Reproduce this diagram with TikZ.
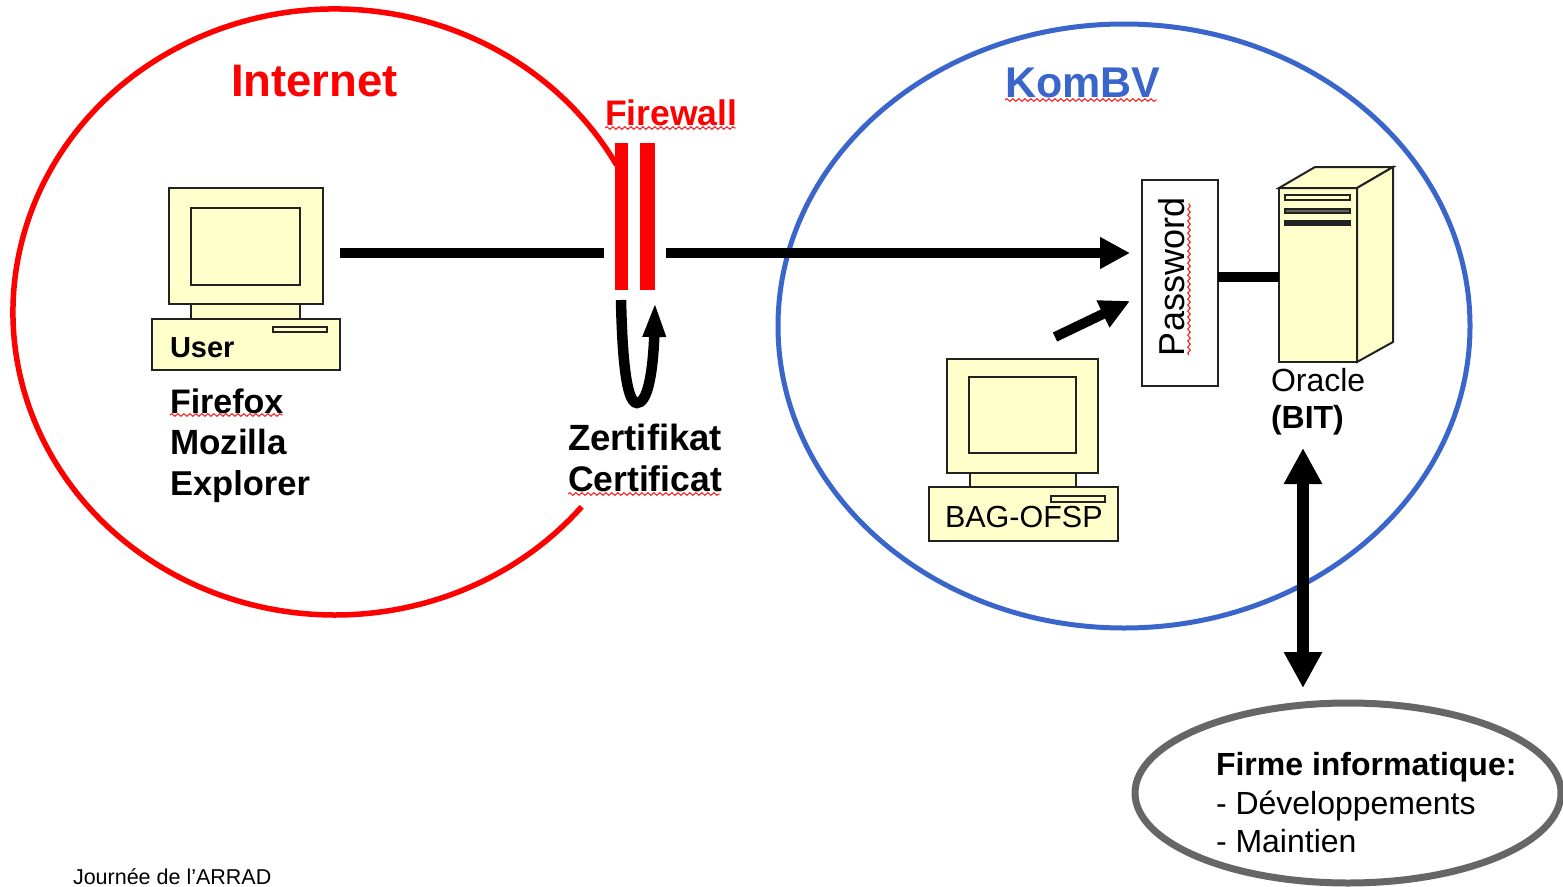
\documentclass[tikz,border=0pt]{standalone}
\usepackage{fontspec}
\setmainfont{Liberation Sans}
\usetikzlibrary{arrows.meta,bending,decorations.pathmorphing,shapes.geometric}
\newcommand{\pxfont}[1]{\fontsize{#1pt}{#1pt}\selectfont}
\definecolor{cream}{HTML}{FFFFCC}
\definecolor{ink}{HTML}{222222}
\definecolor{kombv}{HTML}{3A66CC}
\definecolor{firmgrey}{HTML}{666666}
\tikzset{
  part/.style={draw=ink,fill=cream,line width=2pt,inner sep=0pt,outer sep=0pt,rectangle},
  txt/.style={anchor=base west,inner sep=0pt,outer sep=0pt,black},
  wavy/.style={draw=red,line width=0.9pt,decorate,decoration={snake,amplitude=1.3pt,segment length=6pt}},
  conn/.style={black,line width=10pt},
  bar/.style={fill=red,draw=none,inner sep=0pt,outer sep=0pt,rectangle,minimum height=147pt},
}
\begin{document}
\begin{tikzpicture}[x=1pt,y=-1pt]
\useasboundingbox (0,0) rectangle (1563,886);
\clip (0,0) rectangle (1563,886);
\fill[white] (0,0) rectangle (1563,886);

% zones
\draw[red,line width=5.5pt] (335,312) ++(29:322pt and 303pt) arc[start angle=29,end angle=320,x radius=322pt,y radius=303pt];
\node[ellipse,draw=kombv,line width=5pt,minimum width=692pt,minimum height=604pt,inner sep=0pt] (kombvzone) at (1124,326) {};
\node[ellipse,draw=firmgrey,line width=7pt,minimum width=426pt,minimum height=180pt,inner sep=0pt] (firm) at (1348,793) {};

% zone titles
\node[txt,text=red,font=\bfseries\pxfont{45.5}] (tinternet) at (231,96) {Internet};
\node[txt,text=kombv,font=\bfseries\pxfont{43}] (tkombv) at (1005,97) {KomBV};
\node[txt,text=red,font=\bfseries\pxfont{35.5}] (tfirewall) at (605,125) {Firewall};
\coordinate (wa) at (1005,100); \coordinate (wb) at (1157,100);
\draw[wavy] (wa) -- (wb);
\coordinate (wc) at (605,128); \coordinate (wd) at (736,128);
\draw[wavy] (wc) -- (wd);

% firewall
\node[bar,minimum width=13pt] (fwa) at (621.5,216.5) {};
\node[bar,minimum width=15pt] (fwb) at (647.5,216.5) {};

% user computer
\node[part,minimum width=154pt,minimum height=116pt] (mona) at (246,246) {};
\node[part,minimum width=109pt,minimum height=77pt] (scra) at (245.5,246.5) {};
\node[part,minimum width=109pt,minimum height=15pt] (necka) at (245.5,311.5) {};
\node[part,minimum width=188pt,minimum height=51pt] (basea) at (246,344.5) {};
\node[part,minimum width=54pt,minimum height=5pt] (slota) at (300,329.5) {};
\node[txt,font=\bfseries\pxfont{29}] (tuser) at (170,357) {User};
\node[txt,font=\bfseries\pxfont{34}] (tfirefox) at (170,413) {Firefox};
\node[txt,font=\bfseries\pxfont{35}] (tmozilla) at (170,454) {Mozilla};
\node[txt,font=\bfseries\pxfont{34.5}] (texplorer) at (170,495) {Explorer};
\coordinate (we) at (170,415); \coordinate (wf) at (283,415);
\draw[wavy] (we) -- (wf);

% certificate
\coordinate (certa) at (621,300);
\coordinate (certb) at (655,302);
\draw[black,line width=10.5pt,-{Triangle[length=35pt,width=21pt,flex]}]
  (certa) .. controls (622,345) and (625,403) .. (637,403) .. controls (649,403) and (655,365) .. (certb);
\node[txt,font=\bfseries\pxfont{36.5}] (tzert) at (568,450) {Zertifikat};
\node[txt,font=\bfseries\pxfont{35.5}] (tcert) at (568,491) {Certificat};
\coordinate (wg) at (568,494); \coordinate (wh) at (720,494);
\draw[wavy] (wg) -- (wh);

% main flow
\coordinate (flowa) at (340,253);
\coordinate (flowb) at (604,253);
\coordinate (flowc) at (666,253);
\coordinate (flowd) at (1130,253);
\draw[conn] (flowa) -- (flowb);
\draw[conn,-{Triangle[length=30pt,width=30pt]}] (flowc) -- (flowd);

% password
\node[draw=ink,fill=white,line width=2pt,minimum width=76pt,minimum height=206pt,inner sep=0pt,outer sep=0pt] (pwd) at (1180,283) {};
\node[txt,rotate=90,font=\pxfont{36}] (tpwd) at (1184,356) {Password};
\coordinate (wi) at (1189,355); \coordinate (wj) at (1189,203);
\draw[wavy] (wi) -- (wj);

% server
\node[part,minimum width=78pt,minimum height=174pt] (srv) at (1318,275) {};
\draw[part] (srv.north west) -- (1315,167) -- (1393,167) -- (srv.north east) -- cycle;
\draw[part] (srv.north east) -- (1393,167) -- (1393,342) -- (srv.south east) -- cycle;
\node[part,minimum width=65pt,minimum height=5pt] (slotb) at (1317.5,197.5) {};
\node[part,fill=ink!70!cream,minimum width=65pt,minimum height=4pt] (slotc) at (1317.5,210.5) {};
\node[part,fill=ink,minimum width=65pt,minimum height=4pt] (slotd) at (1317.5,223) {};
\coordinate (pwdout) at (pwd.east |- 0,277);
\coordinate (srvin) at (srv.west |- 0,277);
\draw[conn] (pwdout) -- (srvin);
\node[txt,font=\pxfont{32}] (toracle) at (1271,391) {Oracle};
\node[txt,font=\bfseries\pxfont{32}] (tbit) at (1271,428) {(BIT)};

% BAG computer
\node[part,minimum width=151pt,minimum height=114pt] (monb) at (1022.5,416) {};
\node[part,minimum width=107pt,minimum height=76pt] (scrb) at (1022.5,415) {};
\node[part,minimum width=106pt,minimum height=14pt] (neckb) at (1023,480) {};
\node[part,minimum width=189pt,minimum height=54pt] (baseb) at (1023.5,514) {};
\node[part,minimum width=54pt,minimum height=6pt] (slote) at (1078,499) {};
\node[txt,font=\pxfont{30.5}] (tbag) at (945,527) {BAG-OFSP};
\coordinate (baga) at (1055,337);
\coordinate (bagb) at (1130,301);
\draw[conn,-{Triangle[length=30pt,width=28pt]}] (baga) -- (bagb);

% firm link
\coordinate (linka) at (1303,448);
\coordinate (linkb) at (1303,688);
\draw[black,line width=12pt,{Triangle[length=36pt,width=36pt]}-{Triangle[length=36pt,width=36pt]}] (linka) -- (linkb);

% firm
\node[txt,font=\bfseries\pxfont{32}] (tfirm) at (1216,775) {Firme informatique:};
\node[txt,font=\pxfont{32}] (tdev) at (1216,814) {- Développements};
\node[txt,font=\pxfont{32}] (tmaint) at (1216,852) {- Maintien};

\node[txt,font=\pxfont{21.5}] (tjour) at (73,884.5) {Journée de l’ARRAD};
\end{tikzpicture}
\end{document}
